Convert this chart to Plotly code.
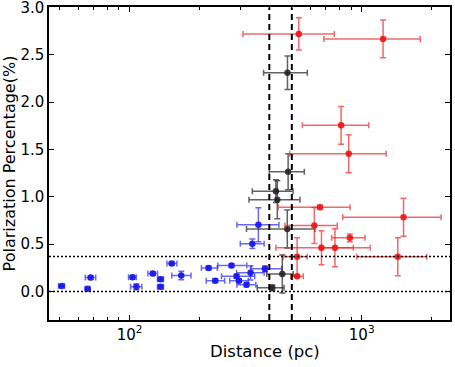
import plotly.graph_objects as go
import numpy as np

# ---------------- data ----------------
# near group (blue)
blue_dist = [51, 66, 68, 103, 107, 126, 136, 136, 152, 167, 219, 234, 275, 289, 296, 319, 332, 383, 359, 338]
blue_dist_minus = [1.5, 1.5, 3.5, 4, 6, 6, 4, 4, 7, 15, 15, 20, 35, 40, 26, 29, 43, 48, 69, 38]
blue_dist_plus = [1.5, 1.5, 3.5, 4, 6, 6, 4, 4, 8, 17, 20, 23, 45, 57, 29, 31, 48, 69, 81, 42]
blue_pol = [0.06, 0.03, 0.148, 0.15, 0.05, 0.19, 0.13, 0.05, 0.296, 0.17, 0.25, 0.115, 0.275, 0.162, 0.115, 0.072, 0.198, 0.24, 0.705, 0.504]
blue_pol_err = [0.01, 0.01, 0.02, 0.02, 0.03, 0.02, 0.02, 0.02, 0.015, 0.045, 0.02, 0.02, 0.02, 0.02, 0.02, 0.02, 0.075, 0.03, 0.18, 0.05]

# middle group (black)
black_dist = [479, 482, 427, 433, 478, 455, 412]
black_dist_minus = [101, 82, 89, 106, 159, 65, 57]
black_dist_plus = [104, 84, 79, 109, 151, 52, 51]
black_pol = [2.31, 1.265, 1.06, 0.97, 0.66, 0.185, 0.04]
black_pol_err = [0.176, 0.19, 0.12, 0.2, 0.2, 0.2, 0.03]

# far group (red)
red_dist = [536, 1236, 815, 879, 661, 1514, 625, 889, 671, 767, 1430, 527, 527]
red_dist_minus = [228, 549, 260, 389, 224, 686, 158, 147, 244, 106, 479, 68, 32]
red_dist_plus = [226, 550, 257, 395, 230, 683, 160, 144, 249, 320, 475, 56, 33]
red_pol = [2.72, 2.667, 1.755, 1.455, 0.891, 0.785, 0.698, 0.567, 0.462, 0.462, 0.367, 0.367, 0.162]
red_pol_err = [0.17, 0.2, 0.2, 0.2, 0.02, 0.2, 0.19, 0.04, 0.18, 0.2, 0.2, 0.2, 0.01]

# reference lines
dist_limits = [400, 500]
pol_levels = [0.0, 0.37]

x_range = [45, 2400]
y_range = [-0.3, 3.0]

FONT = "DejaVu Sans"

fig = go.Figure()

def add_group(x, xm, xp, y, ye, mcol, ecol):
    fig.add_trace(go.Scatter(
        x=x, y=y, mode="markers",
        marker=dict(color=mcol, size=6.5, line=dict(width=0)),
        error_x=dict(type="data", array=xp, arrayminus=xm, symmetric=False,
                     color=ecol, thickness=1.5, width=3),
        error_y=dict(type="data", array=ye, color=ecol, thickness=1.5, width=3),
        showlegend=False, cliponaxis=True,
    ))

add_group(blue_dist, blue_dist_minus, blue_dist_plus, blue_pol, blue_pol_err,
          "rgba(20,20,235,0.9)", "rgba(40,40,235,0.7)")
add_group(black_dist, black_dist_minus, black_dist_plus, black_pol, black_pol_err,
          "rgba(30,30,30,0.85)", "rgba(30,30,30,0.7)")
add_group(red_dist, red_dist_minus, red_dist_plus, red_pol, red_pol_err,
          "rgba(240,20,20,0.9)", "rgba(235,40,40,0.7)")

for d in dist_limits:
    fig.add_trace(go.Scatter(x=[d, d], y=y_range, mode="lines",
                             line=dict(color="black", width=2, dash="6px,4px"),
                             showlegend=False, hoverinfo="skip"))
for p in pol_levels:
    fig.add_trace(go.Scatter(x=x_range, y=[p, p], mode="lines",
                             line=dict(color="black", width=1.5, dash="2px,2px"),
                             showlegend=False, hoverinfo="skip"))

minor_vals = [v * m for m in (10, 100, 1000) for v in range(2, 10)]

fig.update_xaxes(
    type="log", range=[np.log10(x_range[0]), np.log10(x_range[1])],
    tickvals=[100, 1000], ticktext=["10<sup>2</sup>", "10<sup>3</sup>"],
    ticks="inside", ticklen=5, tickwidth=1.2, tickcolor="black",
    minor=dict(tickvals=minor_vals, ticks="inside", ticklen=3, tickwidth=1, tickcolor="black", showgrid=False),
    showline=True, linecolor="black", linewidth=1.5, mirror="ticks",
    showgrid=False, zeroline=False, automargin=False, ticklabeloverflow="allow",
    tickfont=dict(family=FONT, size=15, color="black"),
)
fig.update_yaxes(
    range=[y_range[0], y_range[1] + 0.004], tickvals=[0.0, 0.5, 1.0, 1.5, 2.0, 2.5, 3.0],
    ticktext=["0.0", "0.5", "1.0", "1.5", "2.0", "2.5", "3.0"],
    ticks="inside", ticklen=5, tickwidth=1.2, tickcolor="black",
    showline=True, linecolor="black", linewidth=1.5, mirror="ticks",
    showgrid=False, zeroline=False, automargin=False, ticklabeloverflow="allow",
    title=dict(text="Polarization Percentage(%)", font=dict(family=FONT, size=16, color="black"), standoff=5),
    tickfont=dict(family=FONT, size=15, color="black"),
)

fig.add_annotation(text="Distance (pc)", xref="paper", yref="paper",
                   x=0.539, y=-0.102, xanchor="center", yanchor="middle",
                   showarrow=False, font=dict(family=FONT, size=16.5, color="black"))

fig.update_layout(
    width=455, height=367,
    margin=dict(l=49, r=5, t=7, b=47, autoexpand=False),
    paper_bgcolor="white", plot_bgcolor="white",
    font=dict(family=FONT, color="black"),
)

fig.write_html("out.html", config={"displayModeBar": False},
               post_script="document.body.style.margin='0';document.body.style.padding='0';")
